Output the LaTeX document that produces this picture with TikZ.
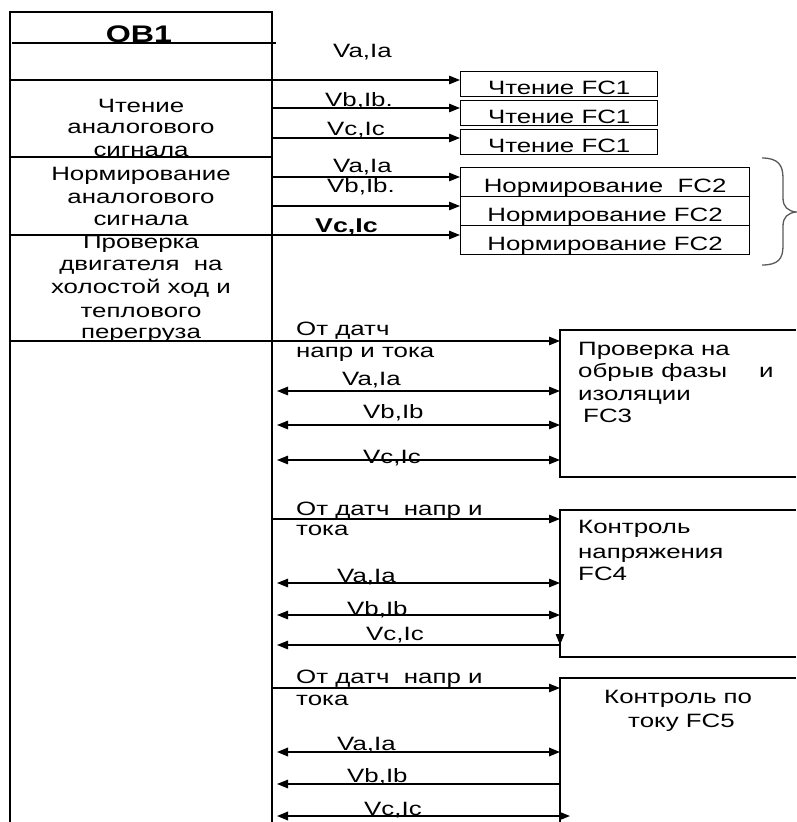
\documentclass[tikz,border=0pt]{standalone}
\usepackage{fontspec}
\setmainfont{Liberation Sans}[FakeStretch=1.34]
\usetikzlibrary{arrows.meta}
\begin{document}
\begin{tikzpicture}[x=1pt,y=-1pt,
  >={Triangle[length=11pt,width=8.5pt]},
  ln/.style={line width=1.2pt,black},
  thk/.style={line width=1.8pt,black},
  txt/.style={inner sep=0pt,font=\fontsize{19.3}{22}\selectfont},
  lw/.style={txt,anchor=base west},
  lc/.style={txt,anchor=base},
  fcone/.style={draw,line width=1.4pt,txt,anchor=north west,minimum width=197pt,
     text height=23pt,text depth=2pt,inner xsep=0pt,inner ysep=0pt},
  fctwo/.style={draw,line width=1.2pt,txt,anchor=north west,minimum width=289pt,
     text height=25pt,text depth=4pt,inner xsep=0pt,inner ysep=0pt},
  brace/.style={line width=1.3pt,draw=black!65}
]
\useasboundingbox (0,0) rectangle (796,822);

% ---------- OB1 column ----------
\coordinate (cTL) at (10,12);
\coordinate (cTR) at (272,12);
\coordinate (cBL) at (10,822);
\coordinate (cBR) at (272,822);
\draw[line width=1.4pt] (cBL) -- (cTL) -- (cTR) -- (cBR);
\draw[ln] (12,43) -- (276,43);
\draw[ln] (10,157) -- (272,157);
\draw[ln] (10,341) -- (272,341);

\node[lc,font=\fontsize{24}{26}\selectfont\bfseries] (ob1) at (139,42) {OB1};
\node[lc] (t1a) at (141,112) {Чтение};
\node[lc] (t1b) at (141,133) {аналогового};
\node[lc] (t1c) at (141,156) {сигнала};
\node[lc] (t2a) at (141,180) {Нормирование};
\node[lc] (t2b) at (141,203) {аналогового};
\node[lc] (t2c) at (141,225) {сигнала};
\node[lc] (t3a) at (141,248) {Проверка};
\node[lc] (t3b) at (141,270) {двигателя~ на};
\node[lc] (t3c) at (141,293) {холостой ход и};
\node[lc] (t3d) at (141,317) {теплового};
\node[lc] (t3e) at (141,338) {перегруза};

% ---------- FC1 boxes ----------
\node[fcone] (fc1a) at (460,71) {Чтение FC1};
\node[fcone] (fc1b) at (460,100) {Чтение FC1};
\node[fcone] (fc1c) at (460,129) {Чтение FC1};

% ---------- FC2 boxes ----------
\node[fctwo] (fc2a) at (460,167) {Нормирование~ FC2};
\node[fctwo] (fc2b) at (460,196) {Нормирование FC2};
\node[fctwo] (fc2c) at (460,225) {Нормирование FC2};

% arrows to FC1 / FC2
\coordinate (a1) at (10,80);
\coordinate (a2) at (272,108);
\coordinate (a3) at (272,138);
\coordinate (a4) at (272,177);
\coordinate (a5) at (272,206);
\coordinate (a6) at (10,235);
\draw[ln,->] (a1) -- (a1 -| fc1a.west);
\draw[ln,->] (a2) -- (a2 -| fc1b.west);
\draw[ln,->] (a3) -- (a3 -| fc1c.west);
\draw[ln,->] (a4) -- (a4 -| fc2a.west);
\draw[ln,->] (a5) -- (a5 -| fc2b.west);
\draw[ln,->] (a6) -- (a6 -| fc2c.west);

\node[lw] (l1) at (333,57) {Va,Ia};
\node[lw] (l2) at (325,106) {Vb,Ib.};
\node[lw] (l3) at (327,135) {Vc,Ic};
\node[lw] (l4) at (333,172) {Va,Ia};
\node[lw] (l5) at (327,192) {Vb,Ib.};
\node[lw,font=\fontsize{20}{22}\selectfont\bfseries] (l6) at (315,232) {Vc,Ic};

% brace
\draw[brace] (762,158) .. controls (778,158) and (783,165) .. (783,178)
  -- (783,198) .. controls (783,207) and (788,211) .. (796,212)
  .. controls (788,213) and (783,217) .. (783,226)
  -- (783,246) .. controls (783,259) and (778,265) .. (762,265);

% ---------- FC3 ----------
\coordinate (fc3) at (560,330);
\draw[ln] (796,330) -| (560,477) -- (796,477);
\node[lw] (f3a) at (578,355) {Проверка на};
\node[lw] (f3b) at (578,377) {обрыв фазы\hspace{32pt}и};
\node[lw] (f3c) at (578,400) {изоляции};
\node[lw] (f3d) at (583,422) {FC3};
\coordinate (b1) at (272,341);
\coordinate (b2) at (277,391);
\coordinate (b3) at (277,425);
\coordinate (b4) at (277,460);
\draw[ln,->] (b1) -- (b1 -| fc3);
\draw[ln,<->] (b2) -- (b2 -| fc3);
\draw[ln,<->] (b3) -- (b3 -| fc3);
\draw[ln,<->] (b4) -- (b4 -| fc3);
\node[lw] (m1) at (296,335) {От датч};
\node[lw] (m2) at (296,357) {напр и тока};
\node[lw] (m3) at (342,385) {Va,Ia};
\node[lw] (m4) at (363,418) {Vb,Ib};
\node[lw] (m5) at (363,463) {Vc,Ic};

% ---------- FC4 ----------
\coordinate (fc4) at (560,510);
\draw[ln] (796,510) -| (560,657) -- (796,657);
\node[lw] (f4a) at (578,533) {Контроль};
\node[lw] (f4b) at (578,558) {напряжения};
\node[lw] (f4c) at (578,580) {FC4};
\coordinate (c1) at (272,519);
\coordinate (c2) at (277,583);
\coordinate (c3) at (277,615);
\coordinate (c4) at (277,645);
\coordinate (c5) at (560,628);
\draw[ln,->] (c1) -- (c1 -| fc4);
\draw[ln,<->] (c2) -- (c2 -| fc4);
\draw[ln,<->] (c3) -- (c3 -| fc4);
\draw[ln,<-] (c4) -- (c4 -| fc4);
\draw[ln,->] (c5) -- (c4 -| fc4);
\node[lw] (n1) at (296,515) {От датч~ напр и};
\node[lw] (n2) at (296,535) {тока};
\node[lw] (n3) at (337,582) {Va,Ia};
\node[lw] (n4) at (347,615) {Vb,Ib};
\node[lw] (n5) at (366,640) {Vc,Ic};

% ---------- FC5 ----------
\coordinate (fc5) at (560,678);
\draw[ln] (796,678) -| (560,822);
\node[lw] (f5a) at (604,703) {Контроль по};
\node[lw] (f5b) at (628,727) {току FC5};
\coordinate (d1) at (272,688);
\coordinate (d2) at (277,752);
\coordinate (d3) at (277,784);
\coordinate (d4) at (277,816);
\coordinate (d5) at (570,816);
\draw[ln,->] (d1) -- (d1 -| fc5);
\draw[thk,<->] (d2) -- (d2 -| fc5);
\draw[ln,<-] (d3) -- (d3 -| fc5);
\draw[thk,<->] (d4) -- (d5);
\node[lw] (p1) at (296,683) {От датч~ напр и};
\node[lw] (p2) at (296,705) {тока};
\node[lw] (p3) at (337,750) {Va,Ia};
\node[lw] (p4) at (347,782) {Vb,Ib};
\node[lw] (p5) at (364,815) {Vc,Ic};
\end{tikzpicture}
\end{document}
